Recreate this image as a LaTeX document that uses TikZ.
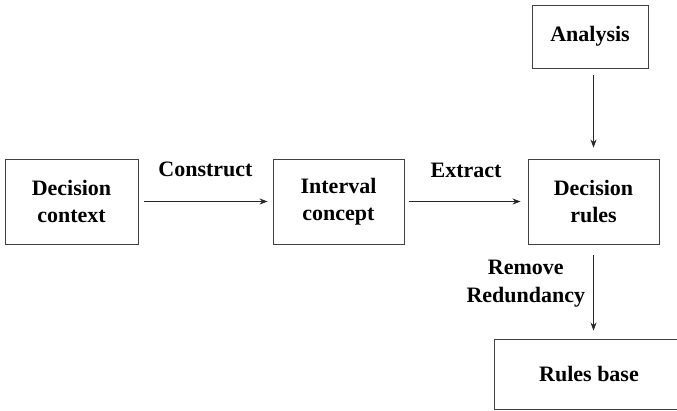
\documentclass[tikz,border=0pt]{standalone}
\usepackage{fontspec}
\setmainfont{Liberation Serif}
\usetikzlibrary{arrows.meta}

\begin{document}
\begin{tikzpicture}[x=1pt, y=-1pt,
    box/.style={draw=black!75, line width=0.9pt, align=center, inner sep=0pt,
        font=\bfseries\fontsize{22}{27}\selectfont},
    flow/.style={draw=black!85, line width=0.8pt, -{Stealth[length=8pt, width=6pt]}},
    lbl/.style={inner sep=0pt, align=center, font=\bfseries\fontsize{22}{28}\selectfont}]

        \clip (0,0) rectangle (677,410);

        % Main row
        \node[box, minimum width=133pt, minimum height=85pt] (context) at (71.5,201.5) {Decision\\context};
        \node[box, minimum width=131pt, minimum height=85pt] (interval) at (338.5,201.5) {Interval\\concept};
        \node[box, minimum width=131pt, minimum height=85pt] (rules) at (593.5,201.5) {Decision\\rules};

        % Top and bottom boxes
        \node[box, minimum width=116pt, minimum height=63pt] (analysis) at (590,36.5) {Analysis};
        \node[box, minimum width=190pt, minimum height=70pt] (base) at (589,374) {Rules base};

        % Horizontal arrows
        \draw[flow, shorten <=6pt, shorten >=5pt] (context) -- node[lbl, above=24pt] (lconstruct) {Construct} (interval);
        \draw[flow, shorten <=5pt, shorten >=7pt] (interval) -- node[lbl, above=23pt] (lextract) {Extract} (rules);

        % Vertical arrows
        \draw[flow, shorten <=7pt, shorten >=11pt] (analysis.south -| rules.north) -- (rules.north);
        \draw[flow, shorten <=11pt, shorten >=8pt] (rules.south) -- node[lbl, left=8pt, pos=0.42] (lremove) {Remove\\Redundancy} (rules.south |- base.north);

    \end{tikzpicture}
\end{document}
